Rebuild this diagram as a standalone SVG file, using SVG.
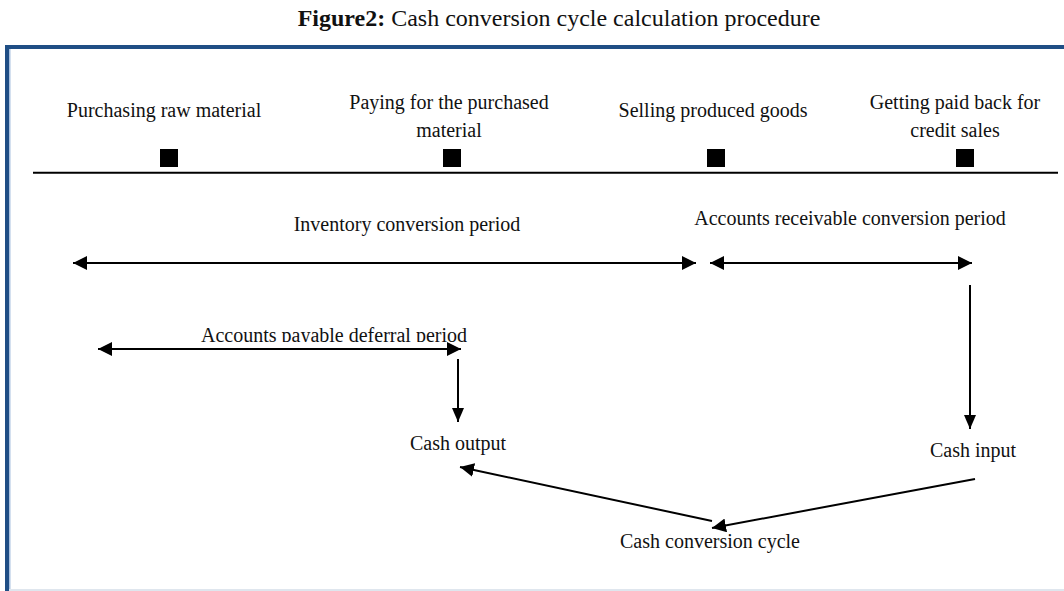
<svg xmlns="http://www.w3.org/2000/svg" width="1064" height="591" viewBox="0 0 1064 591">
<style>
  text { font-family: "Liberation Serif", "Times New Roman", serif; font-size: 20px; fill: #111; text-anchor: middle; }
  .title { font-size: 24px; }
  .conn { stroke: #000; stroke-width: 2; fill: none; }
  .sq { fill: #000; }
</style>
<defs>
  <marker id="ah" viewBox="0 0 14 14" refX="14" refY="7" markerWidth="14" markerHeight="14" markerUnits="userSpaceOnUse" orient="auto-start-reverse">
    <path d="M0,0 L14,7 L0,14 z" fill="#000"/>
  </marker>
  <marker id="av" viewBox="0 0 14 12" refX="14" refY="6" markerWidth="14" markerHeight="12" markerUnits="userSpaceOnUse" orient="auto">
    <path d="M0,0 L14,6 L0,12 z" fill="#000"/>
  </marker>
  <clipPath id="clipAP"><rect x="150" y="300" width="400" height="42"/></clipPath>
</defs>

<rect x="0" y="0" width="1064" height="591" fill="#fff"/>
<text class="title" x="559" y="26"><tspan font-weight="bold">Figure2:</tspan> Cash conversion cycle calculation procedure</text>

<g id="frame">
  <rect x="5" y="45" width="1059" height="4" fill="#1f4e85"/>
  <rect x="5" y="45" width="4" height="546" fill="#1f4e85"/>
  <rect x="9" y="49" width="1.5" height="540" fill="#a9c1e0"/>
  <rect x="9" y="589" width="1055" height="2" fill="#dfe6ee"/>
</g>

<g id="node-purchasing">
  <text x="164" y="117">Purchasing raw material</text>
  <rect class="sq" x="160" y="149" width="18" height="18"/>
</g>
<g id="node-paying">
  <text x="449" y="109">Paying for the purchased</text>
  <text x="449" y="137">material</text>
  <rect class="sq" x="443" y="149" width="18" height="18"/>
</g>
<g id="node-selling">
  <text x="713" y="117">Selling produced goods</text>
  <rect class="sq" x="707" y="149" width="18" height="18"/>
</g>
<g id="node-getting">
  <text x="955" y="109">Getting paid back for</text>
  <text x="955" y="137">credit sales</text>
  <rect class="sq" x="956" y="149" width="18" height="18"/>
</g>
<g id="timeline">
  <line x1="33" y1="172.7" x2="1058" y2="172.7" stroke="#000" stroke-width="2"/>
</g>

<g id="label-inventory"><text x="407" y="231">Inventory conversion period</text></g>
<g id="label-receivable"><text x="850" y="225">Accounts receivable conversion period</text></g>
<g id="label-payable"><text x="334" y="342" clip-path="url(#clipAP)">Accounts payable deferral period</text></g>
<g id="node-cash-output"><text x="458" y="450">Cash output</text></g>
<g id="node-cash-input"><text x="973" y="457">Cash input</text></g>
<g id="node-ccc"><text x="710" y="548">Cash conversion cycle</text></g>

<g id="connectors">
  <line class="conn" x1="73" y1="263" x2="696" y2="263" marker-start="url(#ah)" marker-end="url(#ah)"/>
  <line class="conn" x1="710" y1="263" x2="972" y2="263" marker-start="url(#ah)" marker-end="url(#ah)"/>
  <line class="conn" x1="98" y1="349" x2="461" y2="349" marker-start="url(#ah)" marker-end="url(#ah)"/>
  <line class="conn" x1="458" y1="359" x2="458" y2="422" marker-end="url(#av)"/>
  <line class="conn" x1="970" y1="285" x2="970" y2="429" marker-end="url(#av)"/>
  <line class="conn" x1="975" y1="479" x2="712" y2="528" marker-end="url(#ah)"/>
  <line class="conn" x1="712" y1="521" x2="460" y2="467" marker-end="url(#ah)"/>
</g>
</svg>
